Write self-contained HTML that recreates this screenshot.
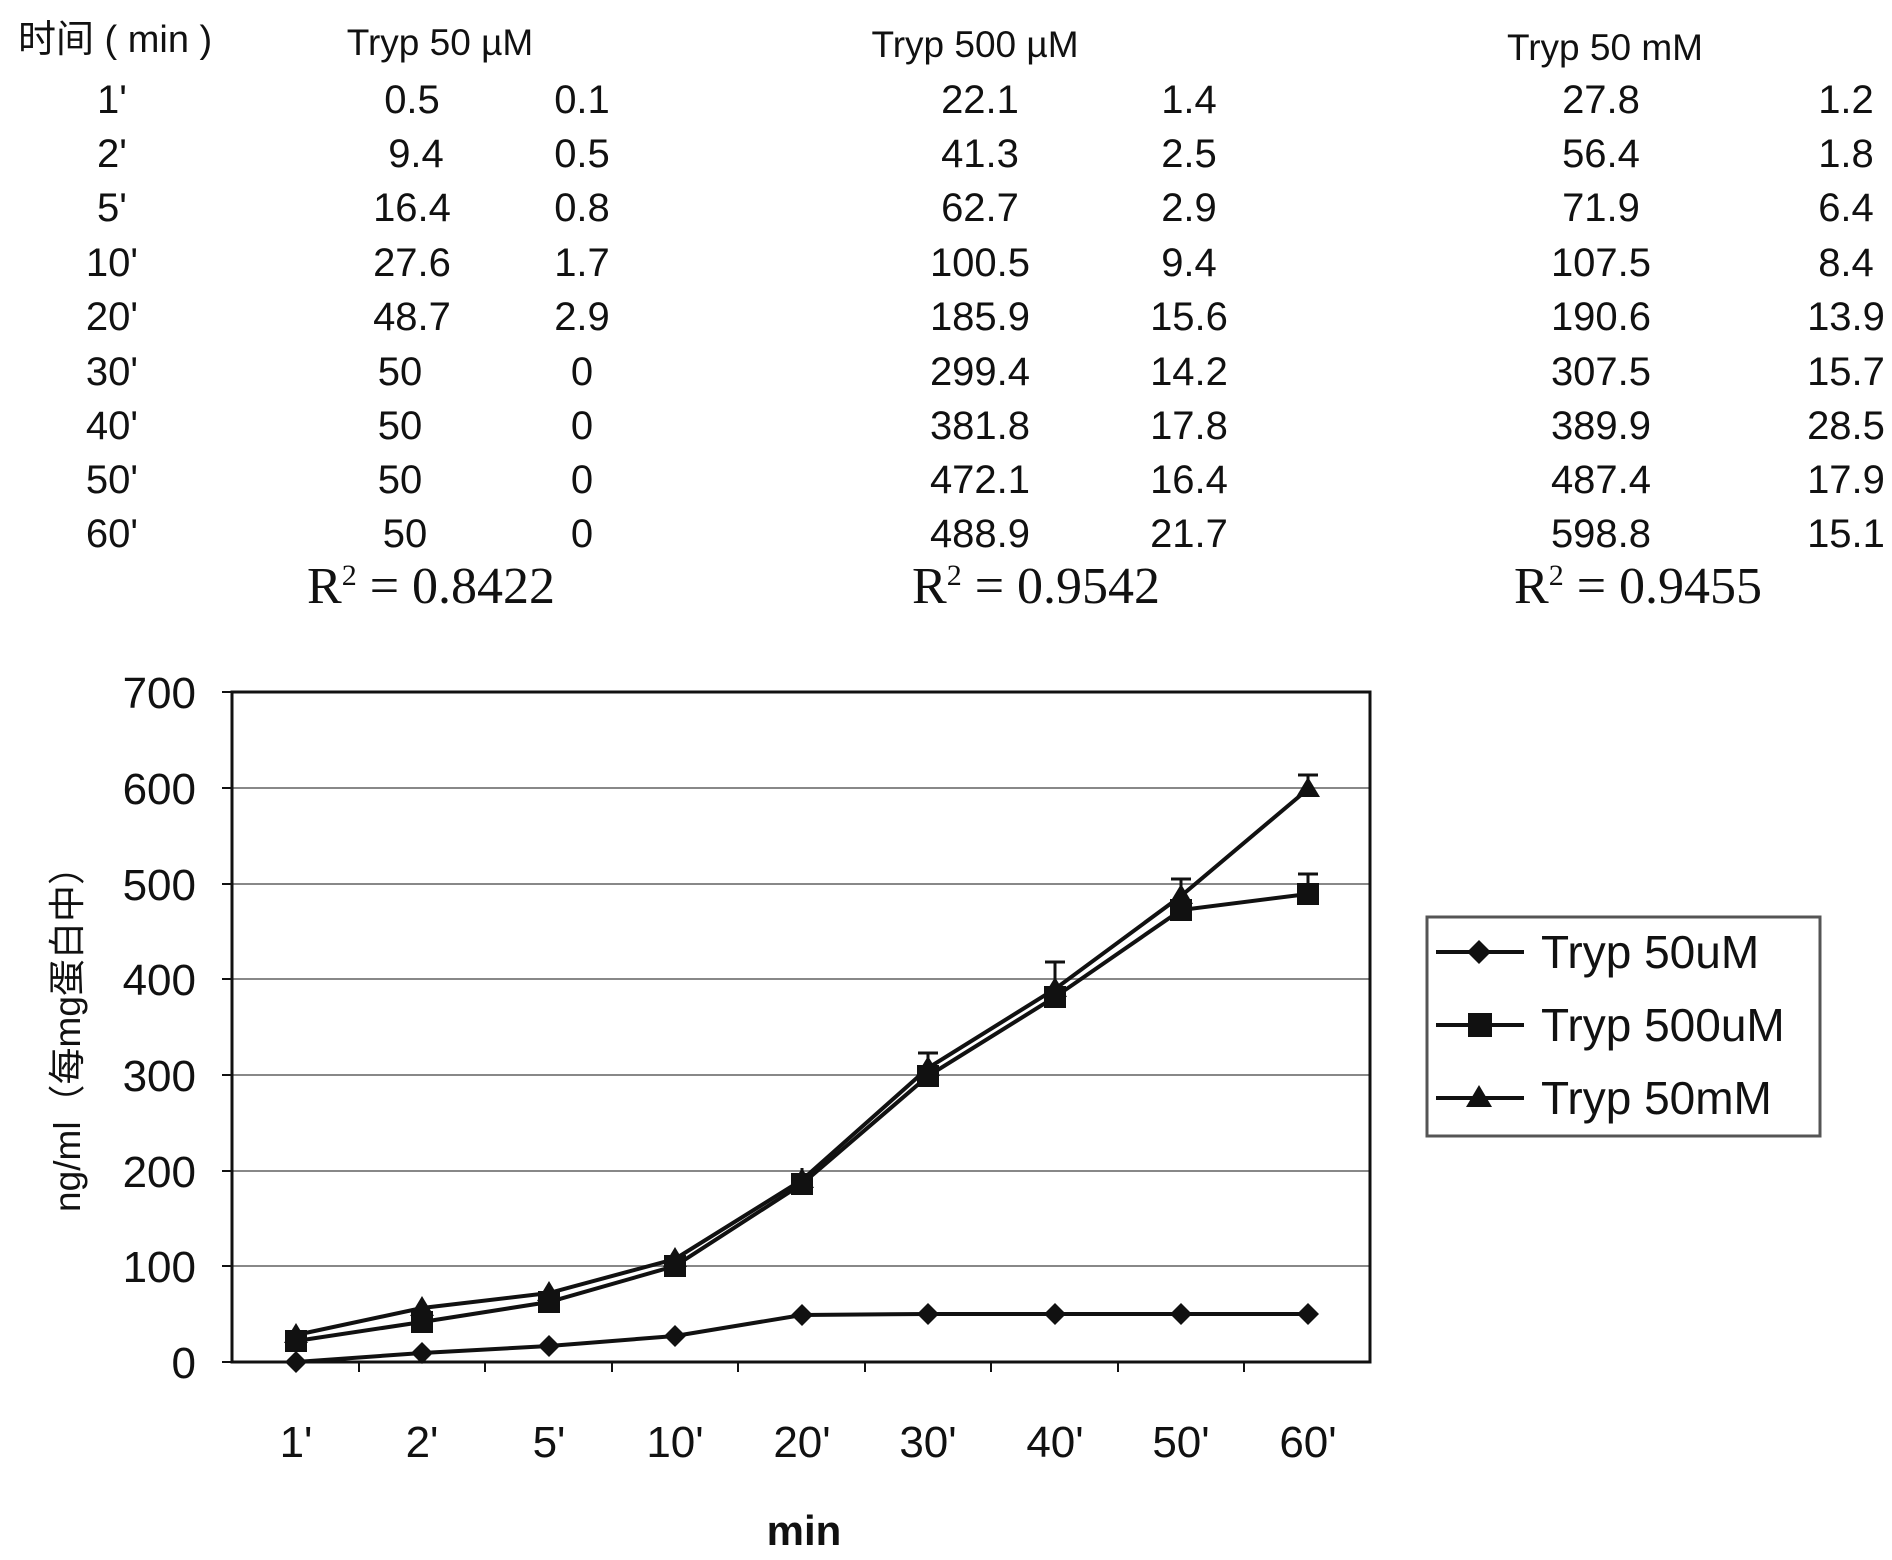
<!DOCTYPE html>
<html><head><meta charset="utf-8"><style>
html,body{margin:0;padding:0;background:#fff;}
svg{display:block;}
text{font-family:"Liberation Sans","Noto Sans CJK SC",sans-serif;fill:#111;}
.t{font-size:40px;text-anchor:middle;}
.h{font-size:37px;text-anchor:middle;}
.r{font-family:"Liberation Serif",serif;font-size:52px;}
.ax{font-size:44px;}
</style></head><body>
<svg width="1892" height="1560" viewBox="0 0 1892 1560" xmlns="http://www.w3.org/2000/svg">
<text x="18" y="52" style="font-size:38px;font-family:'Liberation Sans','Noto Sans CJK SC',sans-serif">时间 ( min )</text>
<text class="h" x="440" y="55">Tryp 50 µM</text>
<text class="h" x="975" y="57">Tryp 500 µM</text>
<text class="h" x="1605" y="60">Tryp 50 mM</text>
<g class="t">
<text class="t" x="112" y="113">1'</text><text class="t" x="412" y="113">0.5</text><text class="t" x="582" y="113">0.1</text><text class="t" x="980" y="113">22.1</text><text class="t" x="1189" y="113">1.4</text><text class="t" x="1601" y="113">27.8</text><text class="t" x="1846" y="113">1.2</text>
<text class="t" x="112" y="167">2'</text><text class="t" x="416" y="167">9.4</text><text class="t" x="582" y="167">0.5</text><text class="t" x="980" y="167">41.3</text><text class="t" x="1189" y="167">2.5</text><text class="t" x="1601" y="167">56.4</text><text class="t" x="1846" y="167">1.8</text>
<text class="t" x="112" y="221">5'</text><text class="t" x="412" y="221">16.4</text><text class="t" x="582" y="221">0.8</text><text class="t" x="980" y="221">62.7</text><text class="t" x="1189" y="221">2.9</text><text class="t" x="1601" y="221">71.9</text><text class="t" x="1846" y="221">6.4</text>
<text class="t" x="112" y="276">10'</text><text class="t" x="412" y="276">27.6</text><text class="t" x="582" y="276">1.7</text><text class="t" x="980" y="276">100.5</text><text class="t" x="1189" y="276">9.4</text><text class="t" x="1601" y="276">107.5</text><text class="t" x="1846" y="276">8.4</text>
<text class="t" x="112" y="330">20'</text><text class="t" x="412" y="330">48.7</text><text class="t" x="582" y="330">2.9</text><text class="t" x="980" y="330">185.9</text><text class="t" x="1189" y="330">15.6</text><text class="t" x="1601" y="330">190.6</text><text class="t" x="1846" y="330">13.9</text>
<text class="t" x="112" y="385">30'</text><text class="t" x="400" y="385">50</text><text class="t" x="582" y="385">0</text><text class="t" x="980" y="385">299.4</text><text class="t" x="1189" y="385">14.2</text><text class="t" x="1601" y="385">307.5</text><text class="t" x="1846" y="385">15.7</text>
<text class="t" x="112" y="439">40'</text><text class="t" x="400" y="439">50</text><text class="t" x="582" y="439">0</text><text class="t" x="980" y="439">381.8</text><text class="t" x="1189" y="439">17.8</text><text class="t" x="1601" y="439">389.9</text><text class="t" x="1846" y="439">28.5</text>
<text class="t" x="112" y="493">50'</text><text class="t" x="400" y="493">50</text><text class="t" x="582" y="493">0</text><text class="t" x="980" y="493">472.1</text><text class="t" x="1189" y="493">16.4</text><text class="t" x="1601" y="493">487.4</text><text class="t" x="1846" y="493">17.9</text>
<text class="t" x="112" y="547">60'</text><text class="t" x="405" y="547">50</text><text class="t" x="582" y="547">0</text><text class="t" x="980" y="547">488.9</text><text class="t" x="1189" y="547">21.7</text><text class="t" x="1601" y="547">598.8</text><text class="t" x="1846" y="547">15.1</text>
</g>
<text class="r" x="307" y="603">R<tspan dy="-18" font-size="30">2</tspan><tspan dy="18"> = 0.8422</tspan></text>
<text class="r" x="912" y="603">R<tspan dy="-18" font-size="30">2</tspan><tspan dy="18"> = 0.9542</tspan></text>
<text class="r" x="1514" y="603">R<tspan dy="-18" font-size="30">2</tspan><tspan dy="18"> = 0.9455</tspan></text>

<g stroke="#888" stroke-width="2">
<line x1="232" x2="1370" y1="1266" y2="1266"/><line x1="232" x2="1370" y1="1171" y2="1171"/><line x1="232" x2="1370" y1="1075" y2="1075"/><line x1="232" x2="1370" y1="979" y2="979"/><line x1="232" x2="1370" y1="884" y2="884"/><line x1="232" x2="1370" y1="788" y2="788"/>
</g>
<rect x="232" y="692" width="1138" height="670" fill="none" stroke="#111" stroke-width="3"/>
<g stroke="#111" stroke-width="2">
<line x1="222" x2="232" y1="1362" y2="1362"/><line x1="222" x2="232" y1="1266" y2="1266"/><line x1="222" x2="232" y1="1171" y2="1171"/><line x1="222" x2="232" y1="1075" y2="1075"/><line x1="222" x2="232" y1="979" y2="979"/><line x1="222" x2="232" y1="884" y2="884"/><line x1="222" x2="232" y1="788" y2="788"/><line x1="222" x2="232" y1="692" y2="692"/>
<line x1="359" x2="359" y1="1362" y2="1372"/><line x1="485" x2="485" y1="1362" y2="1372"/><line x1="612" x2="612" y1="1362" y2="1372"/><line x1="738" x2="738" y1="1362" y2="1372"/><line x1="865" x2="865" y1="1362" y2="1372"/><line x1="991" x2="991" y1="1362" y2="1372"/><line x1="1118" x2="1118" y1="1362" y2="1372"/><line x1="1244" x2="1244" y1="1362" y2="1372"/>
</g>
<g class="ax" text-anchor="end">
<text x="196" y="1378">0</text><text x="196" y="1282">100</text><text x="196" y="1187">200</text><text x="196" y="1091">300</text><text x="196" y="995">400</text><text x="196" y="900">500</text><text x="196" y="804">600</text><text x="196" y="708">700</text>
</g>
<g class="ax" text-anchor="middle">
<text x="296" y="1457">1'</text><text x="422" y="1457">2'</text><text x="549" y="1457">5'</text><text x="675" y="1457">10'</text><text x="802" y="1457">20'</text><text x="928" y="1457">30'</text><text x="1055" y="1457">40'</text><text x="1181" y="1457">50'</text><text x="1308" y="1457">60'</text>
</g>
<text x="804" y="1545" text-anchor="middle" style="font-size:42px;font-weight:bold">min</text>
<text transform="translate(80,1030) rotate(-90)" text-anchor="middle" style="font-size:37px">ng/ml（每mg蛋白中）</text>

<g stroke="#111" stroke-width="4" fill="none">
<polyline points="296,1362 422,1353 549,1346 675,1336 802,1315 928,1314 1055,1314 1181,1314 1308,1314"/>
<polyline points="296,1341 422,1322 549,1302 675,1266 802,1184 928,1076 1055,997 1181,910 1308,894"/>
<polyline points="296,1335 422,1308 549,1293 675,1259 802,1180 928,1068 1055,989 1181,896 1308,789"/>
</g>
<g stroke="#111" stroke-width="3">
<line x1="928" x2="928" y1="1068" y2="1053"/><line x1="918" x2="938" y1="1053" y2="1053"/>
<line x1="1055" x2="1055" y1="989" y2="962"/><line x1="1045" x2="1065" y1="962" y2="962"/>
<line x1="1181" x2="1181" y1="896" y2="879"/><line x1="1171" x2="1191" y1="879" y2="879"/>
<line x1="1308" x2="1308" y1="894" y2="874"/><line x1="1298" x2="1318" y1="874" y2="874"/>
<line x1="1308" x2="1308" y1="789" y2="775"/><line x1="1298" x2="1318" y1="775" y2="775"/>
<line x1="802" x2="802" y1="1180" y2="1168"/><line x1="675" x2="675" y1="1259" y2="1252"/>
</g>
<g fill="#111">
<path d="M296,1351 l11,11 l-11,11 l-11,-11z"/><path d="M422,1342 l11,11 l-11,11 l-11,-11z"/><path d="M549,1335 l11,11 l-11,11 l-11,-11z"/><path d="M675,1325 l11,11 l-11,11 l-11,-11z"/><path d="M802,1304 l11,11 l-11,11 l-11,-11z"/><path d="M928,1303 l11,11 l-11,11 l-11,-11z"/><path d="M1055,1303 l11,11 l-11,11 l-11,-11z"/><path d="M1181,1303 l11,11 l-11,11 l-11,-11z"/><path d="M1308,1303 l11,11 l-11,11 l-11,-11z"/>
<rect x="285" y="1330" width="22" height="22"/><rect x="411" y="1311" width="22" height="22"/><rect x="538" y="1291" width="22" height="22"/><rect x="664" y="1255" width="22" height="22"/><rect x="791" y="1173" width="22" height="22"/><rect x="917" y="1065" width="22" height="22"/><rect x="1044" y="986" width="22" height="22"/><rect x="1170" y="899" width="22" height="22"/><rect x="1297" y="883" width="22" height="22"/>
<path d="M296,1323 l12,20 h-24z"/><path d="M422,1296 l12,20 h-24z"/><path d="M549,1281 l12,20 h-24z"/><path d="M675,1247 l12,20 h-24z"/><path d="M802,1168 l12,20 h-24z"/><path d="M928,1056 l12,20 h-24z"/><path d="M1055,977 l12,20 h-24z"/><path d="M1181,884 l12,20 h-24z"/><path d="M1308,777 l12,20 h-24z"/>
</g>

<rect x="1427" y="917" width="393" height="219" fill="#fff" stroke="#555" stroke-width="3"/>
<g stroke="#111" stroke-width="4"><line x1="1436" x2="1524" y1="952" y2="952"/><line x1="1436" x2="1524" y1="1025" y2="1025"/><line x1="1436" x2="1524" y1="1098" y2="1098"/></g>
<g fill="#111">
<path d="M1479,940 l12,12 l-12,12 l-12,-12z"/>
<rect x="1468" y="1013" width="24" height="24"/>
<path d="M1479,1085 l13,22 h-26z"/>
</g>
<g style="font-size:46px"><text x="1541" y="968">Tryp 50uM</text><text x="1541" y="1041">Tryp 500uM</text><text x="1541" y="1114">Tryp 50mM</text></g>
</svg>
</body></html>
